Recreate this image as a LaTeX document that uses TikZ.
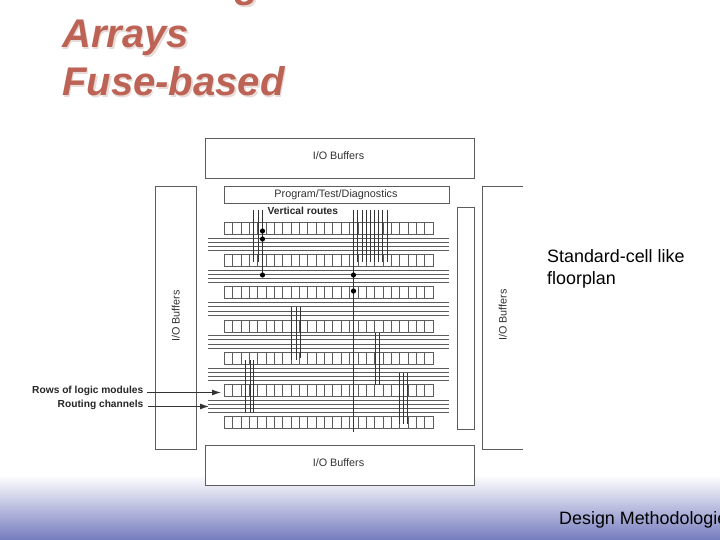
\documentclass[tikz,border=0pt]{standalone}
\usepackage{fontspec}
\setmainfont{Liberation Sans}
\usetikzlibrary{arrows.meta}
\definecolor{ln}{HTML}{5C5C5C}
\definecolor{ttl}{HTML}{BC6355}
\definecolor{shd}{HTML}{E8DAD6}
\definecolor{foot}{HTML}{757CBE}
\tikzset{
 x=1pt,y=-1pt,
 box/.style={draw=ln,line width=1pt,fill=white},
 cellrow/.style={draw=ln,line width=1pt},
 wire/.style={draw=ln,line width=1pt},
 route/.style={draw=black!80,line width=1pt},
 via/.style={circle,fill=black,inner sep=0pt,minimum size=5.2pt},
 lab/.style={font=\fontsize{10.8}{11}\selectfont,text=black!80,inner sep=0pt,anchor=base},
 blab/.style={font=\fontsize{10.2}{11}\selectfont\bfseries,text=black!85,inner sep=0pt},
 arrowline/.style={draw=black!80,line width=1pt,-{Latex[length=9pt,width=6pt]}},
 ttlt/.style={font=\fontsize{40}{40}\selectfont\bfseries\itshape,anchor=base west,inner sep=0pt},
 body/.style={font=\fontsize{17.9}{18}\selectfont,anchor=base west,inner sep=0pt,text=black},
}
\begin{document}
\begin{tikzpicture}
\useasboundingbox (0,0) rectangle (720,540);
\begin{scope}
\clip (0,0) rectangle (720,540);
\shade[top color=white,bottom color=foot] (0,475) rectangle (720,540);
% title
\foreach \c/\d in {shd/1.6,ttl/0}{
 \node[ttlt,text=\c] (t0\d) at (62+\d,-2+\d) {Field-Programmable Gate};
 \node[ttlt,text=\c] (t1\d) at (62+\d,48+\d) {Arrays};
 \node[ttlt,text=\c] (t2\d) at (62+\d,96+\d) {Fuse-based};
}
% outer boxes
\draw[box] (205.5,138.5) rectangle (474.5,178.5);
\node[lab] (iot) at (338.5,160) {I/O Buffers};
\draw[box] (224.5,186.5) rectangle (449.5,203.5);
\node[lab] (prog) at (336,197) {Program/Test/Diagnostics};
\node[blab,anchor=base west] (vr) at (267.5,214.5) {Vertical routes};
\draw[box] (155.5,186.5) rectangle (196.5,449.5);
\node[lab,rotate=90] (iol) at (179.5,316) {I/O Buffers};
\draw[box] (523,186.5) -- (482.5,186.5) -- (482.5,449.5) -- (523,449.5);
\node[lab,rotate=90] (ior) at (506.5,315) {I/O Buffers};
\draw[box] (457.5,207.5) rectangle (474.5,429.5);
\draw[box] (205.5,445.5) rectangle (474.5,485.5);
\node[lab] (iob) at (338.5,466) {I/O Buffers};
% rows of logic modules
\foreach \y in {222.5,254.5,286.5,320.5,352.5,384.5,416.5}{
 \draw[cellrow] (224.3,\y) rectangle (433.3,\y+12);
 \foreach \i in {1,...,24}{
  \draw[cellrow] (224.3+\i*8.36,\y) -- (224.3+\i*8.36,\y+12);
 }
}
% routing channels
\foreach \a/\b/\c/\d in {238.5/242.5/246.5/250.5,270.5/274.5/278.5/282.5,302.5/306.5/311.5/315.5,335.5/339.5/344.5/348.5,368.5/372.5/376.5/380.5,400.5/404.5/408.5/412.5}{
 \foreach \y in {\a,\b,\c,\d}{\draw[wire] (208,\y) -- (448.7,\y);}
}
% vertical routes
\foreach \x/\ya/\yb in {253.5/210/262,258.5/210/262,262.5/210/275,
 353.5/210/431.7,357.5/210/262,362/210/262,366/210/262,370/210/262,374.5/210/262,378.5/210/262,382.5/210/262,387/210/262,
 291.5/306.7/360,296/306.7/360,300/306.7/358,
 245.5/360/412.7,250/360/412.7,253.5/360/412.7,
 375/332.7/385,379/332.7/385,
 399.5/372.7/424,403.5/372.7/424,407.5/372.7/424}{
 \draw[route] (\x,\ya) -- (\x,\yb);
}
\node[via] (v1) at (262.5,231) {};
\node[via] (v2) at (262.5,239) {};
\node[via] (v3) at (262.5,275) {};
\node[via] (v4) at (353.5,275) {};
\node[via] (v5) at (353.5,291) {};
% left labels
\node[blab,anchor=base east] (rl) at (143.5,393.3) {Rows of logic modules};
\node[blab,anchor=base east] (rc) at (143.5,407.3) {Routing channels};
\coordinate (ra) at (221,392.5);
\coordinate (rb) at (209,406.5);
\draw[arrowline] (146.7,392.5) -- (ra);
\draw[arrowline] (147.5,406.5) -- (rb);
% text
\node[body] (s1) at (547,262) {Standard-cell like};
\node[body] (s2) at (547,284.5) {floorplan};
\node[body] (dm) at (559,524.5) {Design Methodologies};
\end{scope}
\end{tikzpicture}
\end{document}
